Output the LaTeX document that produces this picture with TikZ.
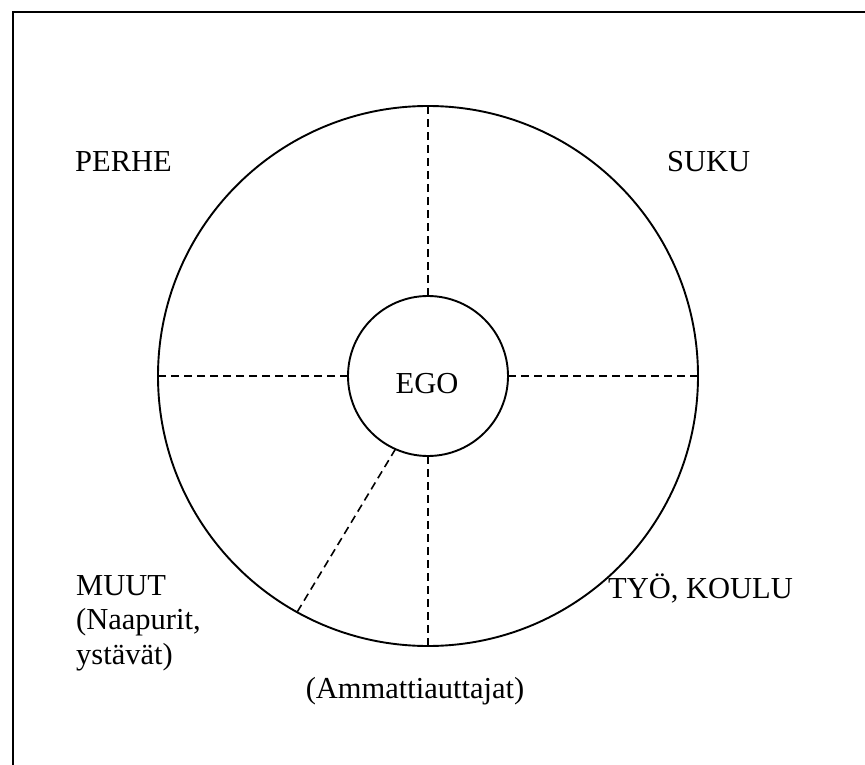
\documentclass[tikz,border=0pt]{standalone}
\usepackage{fontspec}
\setmainfont{Liberation Serif}
\begin{document}
\begin{tikzpicture}[x=1pt,y=-1pt,
  ring/.style={circle,draw,line width=1.9pt,inner sep=0pt,outer sep=0pt},
  sector/.style={line width=1.6pt,dash pattern=on 8pt off 5pt},
  lbl/.style={font=\fontsize{30.5}{34.5}\selectfont,inner sep=0pt,align=left}]
\useasboundingbox (0,0) rectangle (865,765);
\coordinate (bl) at (13,765);
\coordinate (tl) at (13,12);
\coordinate (tr) at (865,12);
\draw[line width=2.6pt] (bl) -- (tl) -- (tr);
\node[ring,minimum size=540pt] (outer) at (428,376) {};
\node[ring,minimum size=160pt] (ego) at (428,376) {};
\node[lbl] at (427,384) {EGO};
\draw[sector] (ego.north) -- (outer.north);
\draw[sector] (ego.west) -- (outer.west);
\draw[sector] (ego.east) -- (outer.east);
\draw[sector] (ego.south) -- (outer.south);
\draw[sector] (ego.246) -- (outer.241);
\node[lbl,anchor=west] (perhe) at (75,162) {PERHE};
\node[lbl,anchor=west] (suku) at (667,162) {SUKU};
\node[lbl,anchor=north west] (muut) at (76,575) {MUUT\\(Naapurit,\\ystävät)};
\node[lbl,anchor=west] (tyo) at (608,588) {TYÖ, KOULU};
\node[lbl] (amm) at (415,691) {(Ammattiauttajat)};
\end{tikzpicture}
\end{document}
